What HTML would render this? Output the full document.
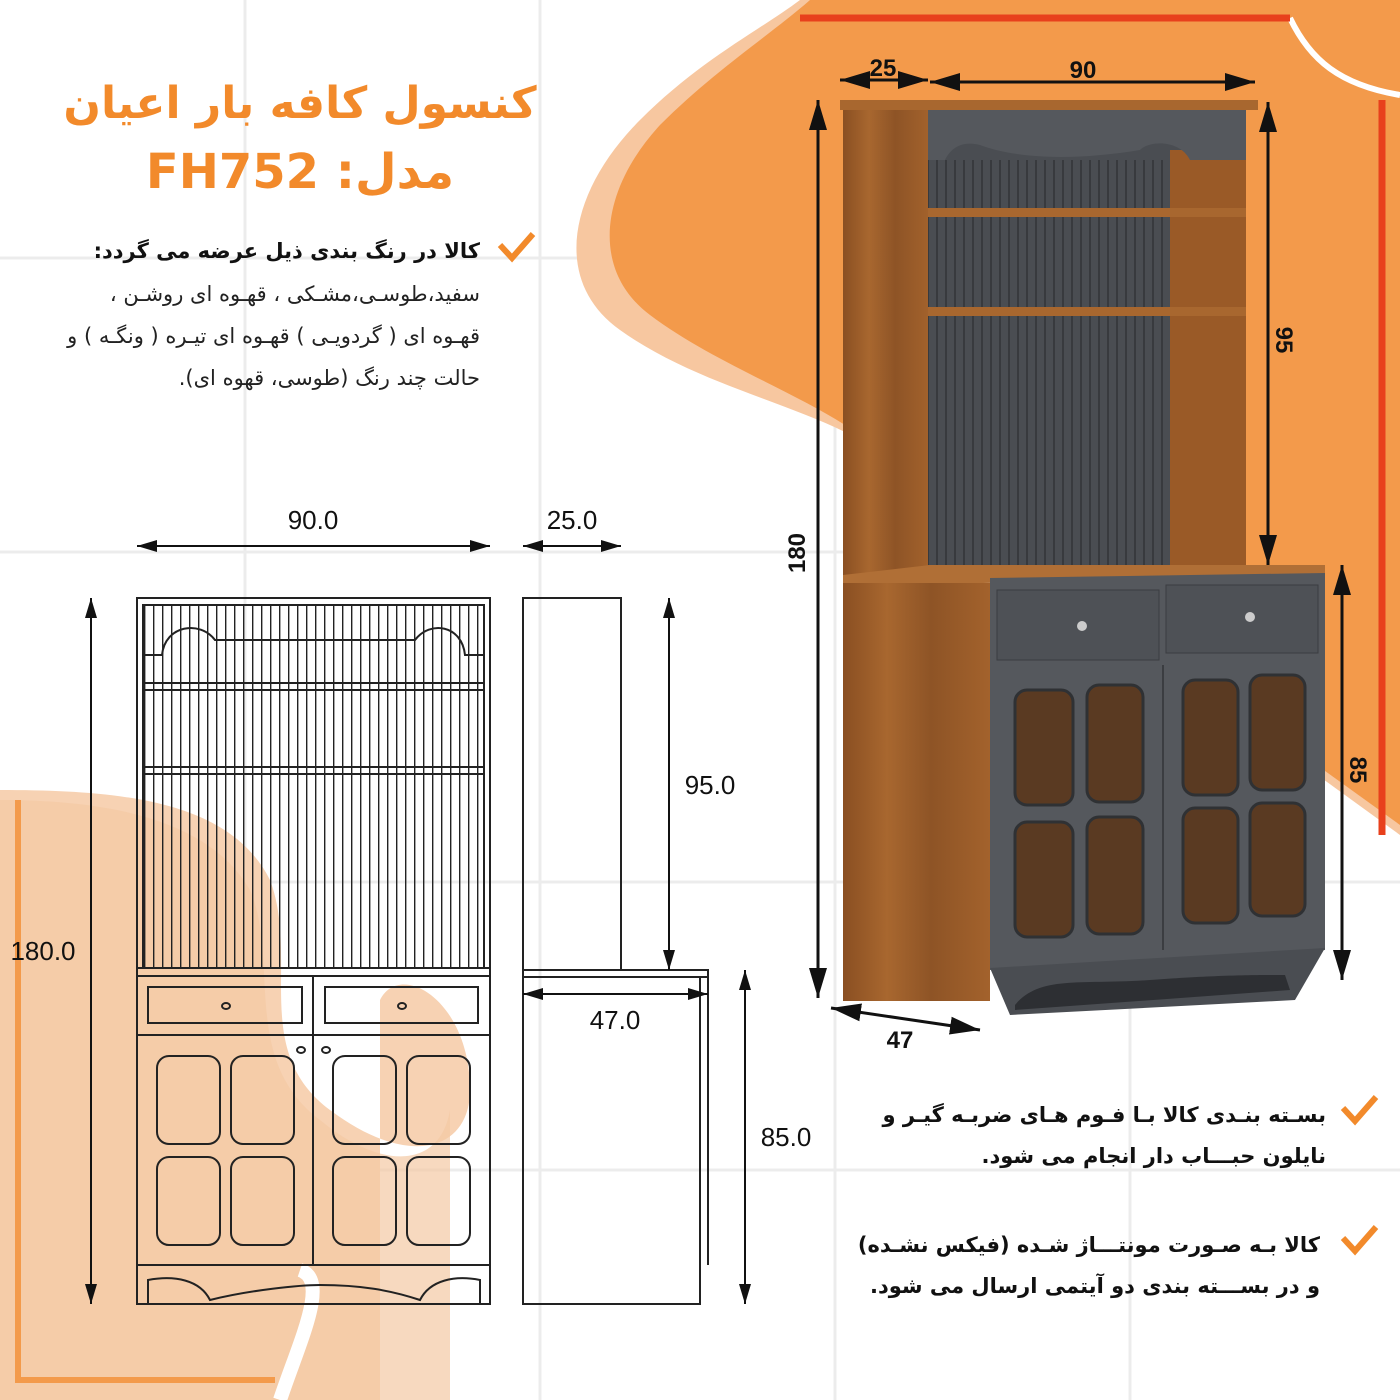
<!DOCTYPE html>
<html><head><meta charset="utf-8">
<style>
html,body{margin:0;padding:0;background:#fff;}
svg{display:block}
.fa{font-family:"DejaVu Sans","Liberation Sans",sans-serif;direction:rtl;}
.num{font-family:"Liberation Sans",sans-serif;font-size:26px;fill:#111;}
</style></head>
<body>
<svg width="1400" height="1400" viewBox="0 0 1400 1400" xmlns="http://www.w3.org/2000/svg">
<defs>
<pattern id="stripe" width="9" height="10" patternUnits="userSpaceOnUse"><rect x="0" width="1.4" height="10" fill="#222"/></pattern>
<pattern id="gstripe" width="9" height="10" patternUnits="userSpaceOnUse"><rect width="9" height="10" fill="#4a4d52"/><rect x="0" width="2" height="10" fill="#383a3e"/></pattern>
<linearGradient id="wood" x1="0" x2="1" y1="0" y2="0">
<stop offset="0" stop-color="#8a4f22"/><stop offset="0.3" stop-color="#a8672f"/><stop offset="0.6" stop-color="#8e5426"/><stop offset="1" stop-color="#a3622c"/></linearGradient>
<marker id="ah" viewBox="0 0 10 10" refX="10" refY="5" markerWidth="10" markerHeight="10" orient="auto-start-reverse"><path d="M0,2 L10,5 L0,8 Z" fill="#111"/></marker>
</defs>
<g stroke="#ececec" stroke-width="3">
<line x1="0" y1="258" x2="1400" y2="258"/><line x1="0" y1="552" x2="1400" y2="552"/><line x1="0" y1="882" x2="1400" y2="882"/><line x1="0" y1="1170" x2="1400" y2="1170"/>
<line x1="245" y1="0" x2="245" y2="1400"/><line x1="540" y1="0" x2="540" y2="1400"/><line x1="835" y1="0" x2="835" y2="1400"/><line x1="1130" y1="0" x2="1130" y2="1400"/>
</g>
<path d="M800,0 C760,30 700,60 640,120 C570,190 550,280 620,330 C690,380 780,400 845,432 L1400,835 L1400,0 Z" fill="#f7c7a0"/>
<path d="M810,0 C770,35 715,70 660,125 C600,190 590,270 650,315 C710,360 790,390 845,425 L1400,825 L1400,0 Z" fill="#f39a4b"/>
<path d="M1290,18 C1310,60 1340,85 1400,95" stroke="#fff" stroke-width="6" fill="none"/>
<path d="M800,18 L1290,18" stroke="#e8401c" stroke-width="7"/>
<path d="M1382,100 L1382,835" stroke="#e8401c" stroke-width="7"/>
<path d="M0,790 C120,790 230,800 270,880 C300,960 250,1050 330,1110 C410,1170 470,1150 470,1090 C470,1000 400,960 380,1000 L380,1400 L0,1400 Z" fill="#f7d2b3"/>
<path d="M0,800 C110,800 210,820 250,890 C280,960 240,1060 320,1120 C380,1170 440,1170 450,1110 L450,1400 L0,1400 Z" fill="#f4c9a4" opacity="0.7"/>
<path d="M300,1270 C330,1280 300,1340 280,1400" stroke="#fff" stroke-width="14" fill="none"/>
<path d="M18,800 L18,1380 L275,1380" stroke="#f39a4b" stroke-width="6" fill="none"/>

<text x="300" y="118" text-anchor="middle" class="fa" font-size="44" font-weight="bold" fill="#f28a2b">کنسول کافه بار اعیان</text>
<text x="300" y="188" text-anchor="middle" class="fa" font-size="48" font-weight="bold" fill="#f28a2b">مدل: FH752</text>
<path d="M500,245 L512,258 L533,234" stroke="#f28a2b" stroke-width="6" fill="none"/>
<text x="480" y="258" class="fa" font-size="21" font-weight="bold" fill="#111">کالا در رنگ بندی ذیل عرضه می گردد:</text>
<text x="480" y="301" class="fa" font-size="21" fill="#222">سفید،طوسـی،مشـکی ، قهـوه ای روشـن ،</text>
<text x="480" y="343" class="fa" font-size="21" fill="#222">قهـوه ای ( گردویـی ) قهـوه ای تیـره ( ونگـه ) و</text>
<text x="480" y="385" class="fa" font-size="21" fill="#222">حالت چند رنگ (طوسی، قهوه ای).</text>

<rect x="843" y="105" width="87" height="475" fill="url(#wood)"/>
<rect x="840" y="100" width="418" height="10" fill="#a8672f"/>
<rect x="928" y="110" width="318" height="455" fill="#4a4d52"/>
<rect x="928" y="160" width="242" height="405" fill="url(#gstripe)"/>
<rect x="1170" y="150" width="76" height="415" fill="#9a5a27"/>
<path d="M928,110 L1246,110 L1246,160 L1190,160 C1180,140 1150,140 1140,150 C1080,160 1020,160 980,145 C960,140 950,150 945,160 L928,160 Z" fill="#55585d"/>
<rect x="928" y="208" width="318" height="9" fill="#a8672f"/>
<rect x="928" y="307" width="318" height="9" fill="#a8672f"/>
<path d="M843,575 L930,565 L1325,565 L1325,578 L843,585 Z" fill="#b06f36"/>
<rect x="843" y="583" width="147" height="418" fill="url(#wood)"/>
<path d="M990,578 L1325,573 L1325,950 L990,970 Z" fill="#55585d"/>
<rect x="997" y="590" width="162" height="70" fill="#4e5156" stroke="#3b3d41"/>
<rect x="1166" y="585" width="152" height="68" fill="#4e5156" stroke="#3b3d41"/>
<circle cx="1082" cy="626" r="5" fill="#ccc"/><circle cx="1250" cy="617" r="5" fill="#ccc"/>
<line x1="1163" y1="665" x2="1163" y2="950" stroke="#3b3d41" stroke-width="2"/>
<g fill="#5a3a22" stroke="#2f3134" stroke-width="3">
<rect x="1015" y="690" width="58" height="115" rx="12"/><rect x="1087" y="685" width="56" height="117" rx="12"/>
<rect x="1015" y="822" width="58" height="115" rx="12"/><rect x="1087" y="817" width="56" height="117" rx="12"/>
<rect x="1183" y="680" width="55" height="115" rx="12"/><rect x="1250" y="675" width="55" height="115" rx="12"/>
<rect x="1183" y="808" width="55" height="115" rx="12"/><rect x="1250" y="803" width="55" height="113" rx="12"/>
</g>
<path d="M990,968 L1325,948 L1295,1000 L1010,1015 Z" fill="#4a4d52"/>
<path d="M1015,1005 C1040,975 1080,985 1150,980 C1220,975 1250,975 1285,975 L1290,990 L1015,1010 Z" fill="#2d2f33"/>
<g stroke="#111" stroke-width="3" fill="none">
<line x1="840" y1="80" x2="928" y2="80" marker-start="url(#ah)" marker-end="url(#ah)"/>
<line x1="930" y1="82" x2="1255" y2="82" marker-start="url(#ah)" marker-end="url(#ah)"/>
<line x1="818" y1="100" x2="818" y2="998" marker-start="url(#ah)" marker-end="url(#ah)"/>
<line x1="1268" y1="102" x2="1268" y2="565" marker-start="url(#ah)" marker-end="url(#ah)"/>
<line x1="1342" y1="565" x2="1342" y2="980" marker-start="url(#ah)" marker-end="url(#ah)"/>
<line x1="831" y1="1008" x2="980" y2="1030" marker-start="url(#ah)" marker-end="url(#ah)"/>
</g>
<g font-family="Liberation Sans,sans-serif" font-weight="bold" font-size="24" fill="#111">
<text x="883" y="76" text-anchor="middle">25</text>
<text x="1083" y="78" text-anchor="middle">90</text>
<text x="900" y="1048" text-anchor="middle">47</text>
<text transform="translate(805,553) rotate(-90)" text-anchor="middle">180</text>
<text transform="translate(1276,340) rotate(90)" text-anchor="middle">95</text>
<text transform="translate(1350,770) rotate(90)" text-anchor="middle">85</text>
</g>

<path d="M1343,1108 L1355,1121 L1376,1097" stroke="#f28a2b" stroke-width="6" fill="none"/>
<text x="1326" y="1122" class="fa" font-size="21" font-weight="bold" fill="#111">بسـته بنـدی کالا بـا فـوم هـای ضربـه گیـر و</text>
<text x="1326" y="1163" class="fa" font-size="21" font-weight="bold" fill="#111">نایلون حبـــاب دار انجام می شود.</text>
<path d="M1343,1238 L1355,1251 L1376,1227" stroke="#f28a2b" stroke-width="6" fill="none"/>
<text x="1320" y="1252" class="fa" font-size="21" font-weight="bold" fill="#111">کالا بـه صـورت مونتـــاژ شـده (فیکس نشـده)</text>
<text x="1320" y="1293" class="fa" font-size="21" font-weight="bold" fill="#111">و در بســـته بندی دو آیتمی ارسال می شود.</text>

<g stroke="#222" stroke-width="2" fill="none">
<rect x="137" y="598" width="353" height="706"/>
<rect x="143" y="605" width="341" height="363" fill="url(#stripe)"/>
<rect x="143" y="683" width="341" height="7"/>
<rect x="143" y="767" width="341" height="7"/>
<path d="M143,605 L484,605 L484,655 L465,655 C462,625 430,620 415,640 C360,640 270,640 215,640 C200,620 165,625 162,655 L143,655 Z"/>
<rect x="137" y="968" width="353" height="8"/>
<rect x="148" y="987" width="154" height="36"/><rect x="325" y="987" width="153" height="36"/>
<ellipse cx="226" cy="1006" rx="4" ry="3"/><ellipse cx="402" cy="1006" rx="4" ry="3"/>
<line x1="137" y1="1035" x2="490" y2="1035"/>
<line x1="313" y1="976" x2="313" y2="1265"/>
<ellipse cx="301" cy="1050" rx="4" ry="3"/><ellipse cx="326" cy="1050" rx="4" ry="3"/>
<rect x="157" y="1056" width="63" height="88" rx="12"/><rect x="231" y="1056" width="63" height="88" rx="12"/>
<rect x="157" y="1157" width="63" height="88" rx="12"/><rect x="231" y="1157" width="63" height="88" rx="12"/>
<rect x="333" y="1056" width="63" height="88" rx="12"/><rect x="407" y="1056" width="63" height="88" rx="12"/>
<rect x="333" y="1157" width="63" height="88" rx="12"/><rect x="407" y="1157" width="63" height="88" rx="12"/>
<line x1="137" y1="1265" x2="490" y2="1265"/>
<path d="M148,1304 L148,1280 C175,1275 200,1280 210,1300 C250,1290 300,1285 320,1285 C360,1285 390,1290 420,1300 C430,1280 455,1275 480,1280 L480,1304"/>
<rect x="523" y="598" width="98" height="372"/>
<rect x="523" y="970" width="185" height="7"/>
<rect x="523" y="977" width="177" height="327"/>
<line x1="708" y1="977" x2="708" y2="1265"/>
</g>
<g stroke="#111" stroke-width="2" fill="none">
<line x1="137" y1="546" x2="490" y2="546" marker-start="url(#ah)" marker-end="url(#ah)"/>
<line x1="523" y1="546" x2="621" y2="546" marker-start="url(#ah)" marker-end="url(#ah)"/>
<line x1="91" y1="598" x2="91" y2="1304" marker-start="url(#ah)" marker-end="url(#ah)"/>
<line x1="669" y1="598" x2="669" y2="970" marker-start="url(#ah)" marker-end="url(#ah)"/>
<line x1="523" y1="994" x2="708" y2="994" marker-start="url(#ah)" marker-end="url(#ah)"/>
<line x1="745" y1="970" x2="745" y2="1304" marker-start="url(#ah)" marker-end="url(#ah)"/>
</g>
<text x="313" y="529" text-anchor="middle" class="num">90.0</text>
<text x="572" y="529" text-anchor="middle" class="num">25.0</text>
<text x="43" y="960" text-anchor="middle" class="num">180.0</text>
<text x="710" y="794" text-anchor="middle" class="num">95.0</text>
<text x="615" y="1029" text-anchor="middle" class="num">47.0</text>
<text x="786" y="1146" text-anchor="middle" class="num">85.0</text>
</svg>
</body></html>
